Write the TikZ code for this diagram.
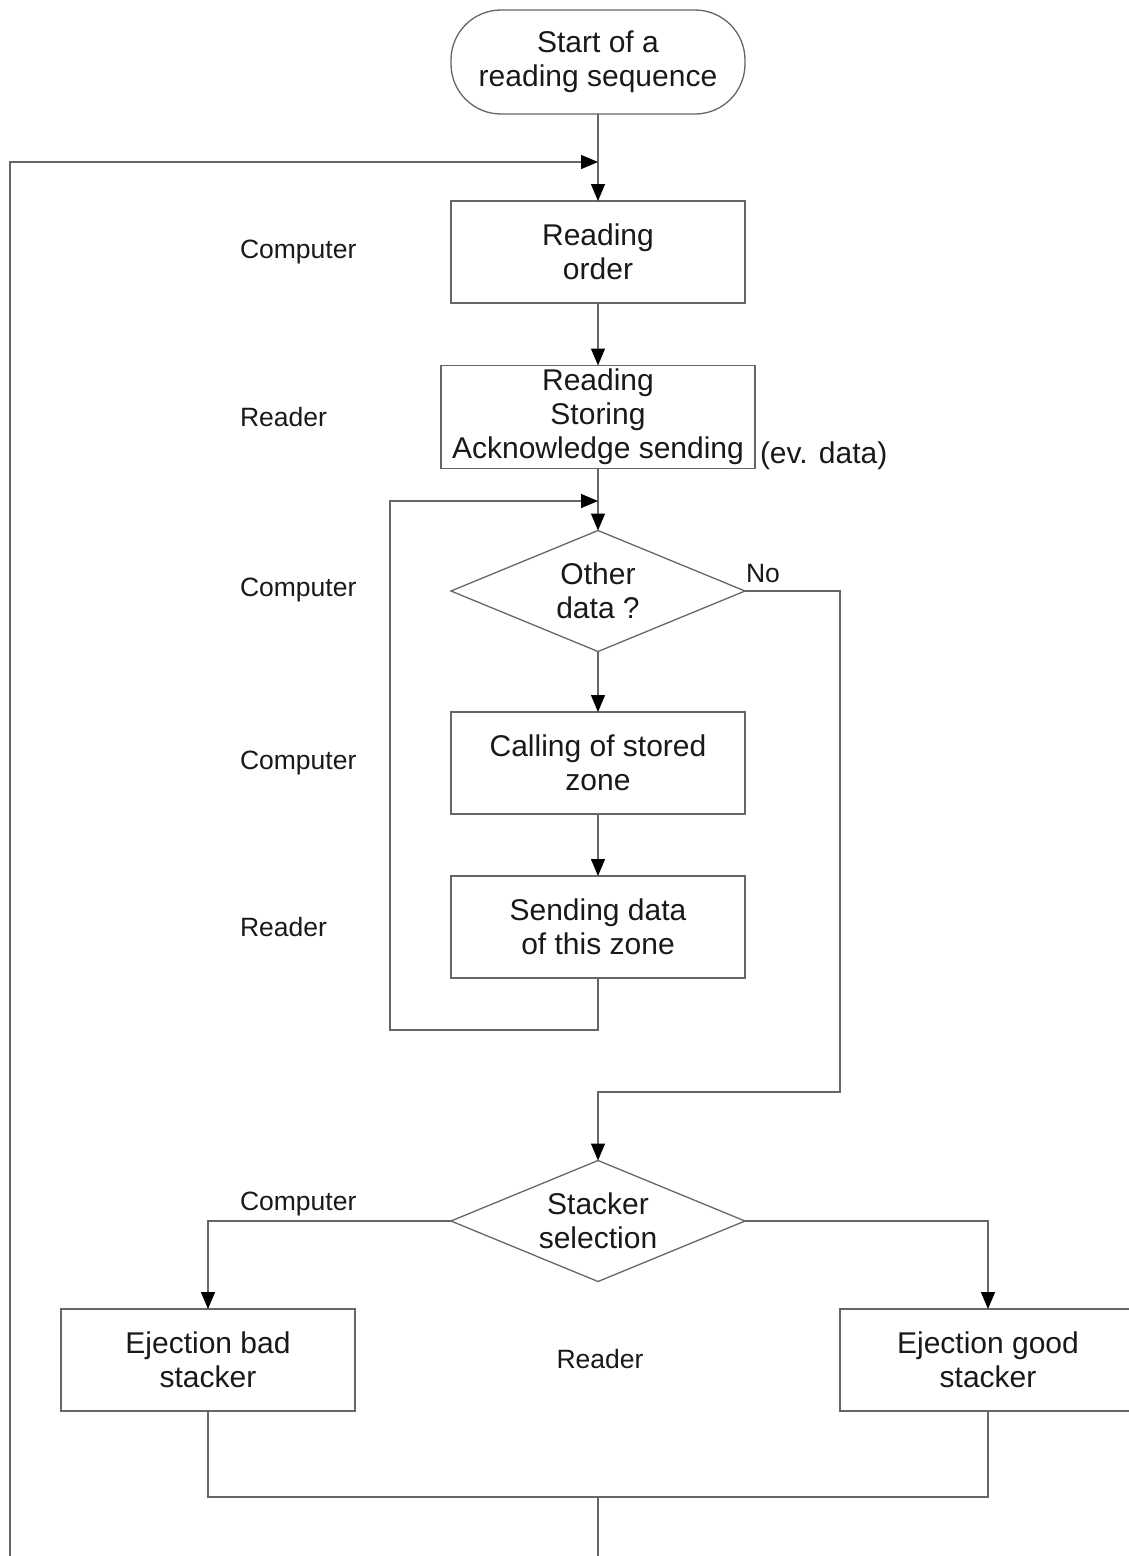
\documentclass[tikz,border=0pt]{standalone}
\usepackage{fontspec}
\setmainfont{Liberation Sans}
\usetikzlibrary{arrows.meta,shapes.geometric}
\begin{document}
\begin{tikzpicture}[x=1pt,y=-1pt,
  every node/.style={inner sep=0pt, outer sep=0pt, text=black!90},
  boxtxt/.style={font=\fontsize{30}{34}\selectfont, align=center},
  lbl/.style={font=\fontsize{26.5}{30}\selectfont, anchor=west},
  stepbox/.style={boxtxt, draw=black!60, line width=1.3pt, minimum width=294pt, minimum height=102pt},
  terminal/.style={boxtxt, draw=black!60, line width=1.3pt, rounded corners=50pt, minimum width=294pt, minimum height=104pt},
  decision/.style={boxtxt, diamond, aspect=2.4, draw=black!60, line width=1.3pt, minimum width=294pt, minimum height=121pt},
  conn/.style={draw=black!60, line width=1.3pt},
  arr/.style={conn, -{Triangle[width=14pt,length=17pt]}, arrows={[color=black]}},
]
\useasboundingbox (0,0) rectangle (1128,1556);

% nodes
\node[terminal] (start) at (598,62) {Start of a\\reading sequence};
\node[stepbox] (b1) at (598,252) {Reading\\order};
\node[stepbox, minimum width=314pt, minimum height=103pt] (b2) at (598,417) {Reading\\Storing\\Acknowledge sending};
\node[boxtxt, anchor=west] (ev) at (760,456) {(ev. data)};
\node[decision] (d1) at (598,591) {Other\\data ?};
\node[stepbox] (b3) at (598,763) {Calling of stored\\zone};
\node[stepbox] (b4) at (598,927) {Sending data\\of this zone};
\node[decision] (d2) at (598,1221) {Stacker\\selection};
\node[stepbox] (bad) at (208,1360) {Ejection bad\\stacker};
\node[stepbox, minimum width=296pt] (good) at (988,1360) {Ejection good\\stacker};

% labels
\node[lbl] (l1) at (240,252) {Computer};
\node[lbl] (l2) at (240,417) {Reader};
\node[lbl] (l3) at (240,590) {Computer};
\node[lbl] (l4) at (240,763) {Computer};
\node[lbl] (l5) at (240,927) {Reader};
\node[lbl] (l6) at (240,1204) {Computer};
\node[lbl, anchor=center] (l7) at (600,1359) {Reader};
\node[lbl] (no) at (746,574) {No};

% coordinates
\coordinate (loopbot) at (10,1556);
\coordinate (join1) at (598,162);
\coordinate (join2) at (598,501);
\coordinate (loop2) at (390,1030);
\coordinate (noright) at (840,1092);
\coordinate (merge) at (598,1497);
\coordinate (endpt) at (598,1556);

% connectors
\draw[arr] (start.south) -- (b1.north);
\draw[arr] (loopbot) |- (join1);
\draw[arr] (b1.south) -- (b2.north);
\draw[arr] (b2.south) -- (d1.north);
\draw[arr] (d1.south) -- (b3.north);
\draw[arr] (b3.south) -- (b4.north);
\draw[arr] (b4.south) |- (loop2) |- (join2);
\draw[arr] (d1.east) -| (noright) -| (d2.north);
\draw[arr] (d2.west) -| (bad.north);
\draw[arr] (d2.east) -| (good.north);
\draw[conn] (bad.south) |- (merge) -| (good.south);
\draw[conn] (merge) -- (endpt);
\end{tikzpicture}
\end{document}
